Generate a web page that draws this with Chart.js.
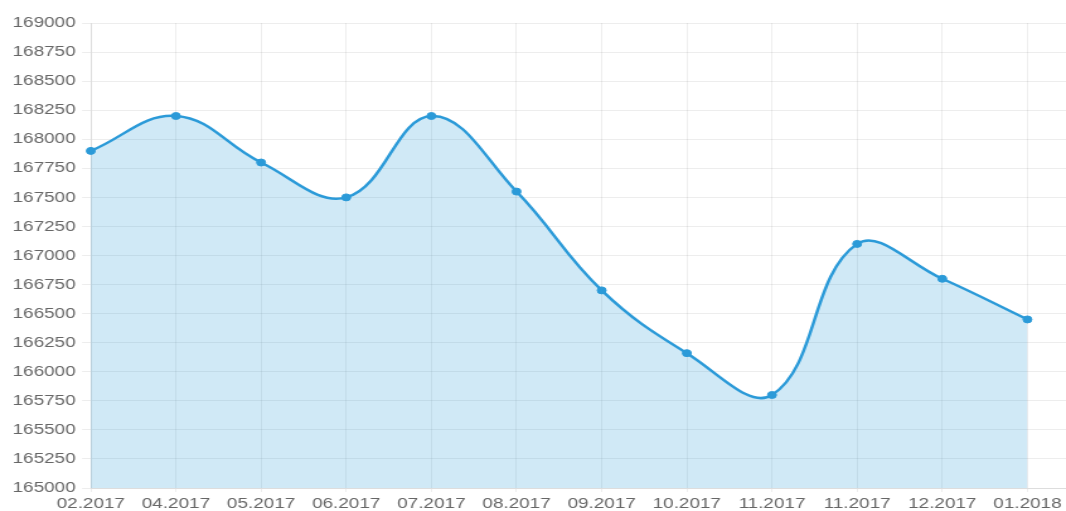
<!DOCTYPE html>
<html>
<head>
<meta charset="utf-8">
<script src="https://cdn.jsdelivr.net/npm/chart.js@4/dist/chart.umd.min.js"></script>
<style>
  html, body { margin: 0; padding: 0; background: #fff; overflow: hidden; }
  #wrap { width: 890px; height: 511px; transform: scaleX(1.26); transform-origin: left top; }
</style>
</head>
<body>
<div id="wrap"><canvas id="grafico" width="890" height="511" style="width:890px;height:511px"></canvas></div>
<script>
// datos
var meses = ['02.2017', '04.2017', '05.2017', '06.2017', '07.2017', '08.2017', '09.2017', '10.2017', '11.2017', '11.2017', '12.2017', '01.2018', ''];
var valores = [167900, 168200, 167800, 167500, 168200, 167550, 166700, 166160, 165800, 167100, 166800, 166450];
var ejeMin = 165000;
var ejeMax = 169000;
var paso = 250;

var azul = '#2b9ad8';
var relleno = 'rgba(43, 154, 216, 0.22)';
var rejilla = 'rgba(0, 0, 0, 0.07)';
var fuente = { family: '"Liberation Sans", Arial, sans-serif', size: 15 };
var fuenteX = { family: '"Liberation Sans", Arial, sans-serif', size: 15, lineHeight: 1 };

var ctx = document.getElementById('grafico').getContext('2d');
new Chart(ctx, {
	type: 'line',
	data: {
		labels: meses,
		datasets: [{
			data: valores,
			borderColor: azul,
			backgroundColor: relleno,
			borderWidth: 2.5,
			pointRadius: 3.5,
			pointBackgroundColor: azul,
			pointBorderColor: azul,
			pointBorderWidth: 1,
			tension: 0.4,
			fill: 'start'
		}]
	},
	options: {
		responsive: false,
		animation: false,
		layout: { padding: { left: 5, right: 7, top: 23, bottom: -4 } },
		plugins: { legend: { display: false }, tooltip: { enabled: false } },
		scales: {
			x: {
				grid: { color: rejilla, tickLength: 4 },
				border: { color: rejilla },
				ticks: { color: '#666', font: fuenteX, padding: 4, maxRotation: 0, autoSkip: false }
			},
			y: {
				min: ejeMin,
				max: ejeMax,
				grid: { color: rejilla, tickLength: 7 },
				border: { color: rejilla },
				ticks: {
					color: '#666', font: fuente, stepSize: paso, padding: 5,
					callback: function (v) { return String(v); }
				}
			}
		}
	}
});
</script>
</body>
</html>
